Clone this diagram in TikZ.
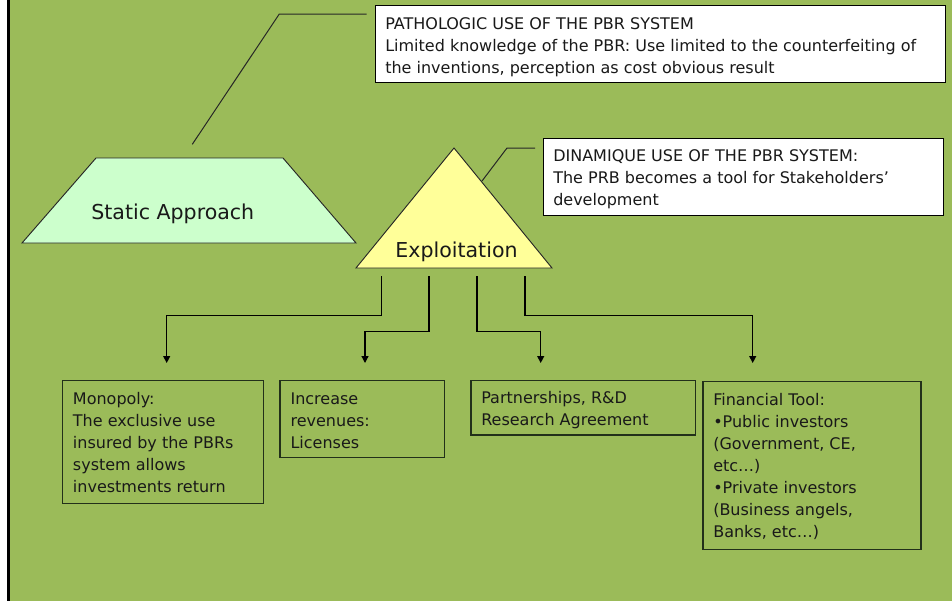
\documentclass[tikz,border=0pt]{standalone}
\usepackage{fontspec}
\setmainfont{DejaVu Sans}
\usetikzlibrary{arrows.meta}
\definecolor{bg}{HTML}{9BBB59}
\definecolor{mint}{HTML}{CCFFCC}
\definecolor{lemon}{HTML}{FFFF99}
\definecolor{edge}{HTML}{22301A}
\begin{document}
\begin{tikzpicture}[x=0.75pt,y=-0.75pt,
  conn/.style={line width=0.9pt, draw=black},
  arr/.style={conn, -{Triangle[width=5.2pt,length=5.2pt]}},
  lead/.style={line width=0.75pt, draw=black!85},
  callout/.style={draw=black, line width=0.75pt, fill=white},
  leaf/.style={draw=edge, line width=0.95pt},
  shapeedge/.style={draw=black!85, line width=0.7pt},
  txt/.style={inner sep=0pt, anchor=north west, align=left, text=black!90, font=\fontsize{12}{16.5}\selectfont},
  big/.style={inner sep=0pt, anchor=base, text=black!90, font=\fontsize{15.4}{18}\selectfont}]
\useasboundingbox (0,0) rectangle (952,601);
\fill[white] (0,0) rectangle (952,601);
\fill[bg] (10,0) rectangle (952,601);
\fill[black] (7.3,0) rectangle (10,601);

% static approach trapezoid
\draw[shapeedge, fill=mint] (96,158) -- (283,158) -- (356,243) -- (22,243) -- cycle;
\node[big] (static) at (172.8,219) {Static Approach};

% exploitation triangle
\draw[shapeedge, fill=lemon] (454,148) -- (552,268) -- (356,268) -- cycle;
\node[big] (exploit) at (456.5,257) {Exploitation};

% callouts
\draw[callout] (375,5.7) rectangle (945,82.7);
\node[txt] (patho) at (385,13.4) {\rule{0pt}{11.5pt}PATHOLOGIC USE OF THE PBR SYSTEM\\Limited knowledge of the PBR: Use limited to the counterfeiting of\\the inventions, perception as cost obvious result};
\draw[callout] (543,138) rectangle (943,215);
\node[txt] (dyn) at (553,145.7) {\rule{0pt}{11.5pt}DINAMIQUE USE OF THE PBR SYSTEM:\\The PRB becomes a tool for Stakeholders’\\development};

% leader lines
\coordinate (pl) at (366.7,14);
\coordinate (pe) at (192.3,144.3);
\draw[lead] (pl) -- (279.3,14) -- (pe);
\coordinate (dl) at (535,148);
\coordinate (de) at (482,181);
\draw[lead] (dl) -- (507,148) -- (de);

% leaf boxes
\draw[leaf] (62.7,380.7) rectangle (263.3,503.3);
\node[txt] (mono) at (72.7,388.4) {\rule{0pt}{11.5pt}Monopoly:\\The exclusive use\\insured by the PBRs\\system allows\\investments return};
\draw[leaf] (280,380.7) rectangle (444.3,457.7);
\node[txt] (incr) at (290.3,388.4) {\rule{0pt}{11.5pt}Increase\\revenues:\\Licenses};
\draw[leaf] (471,380.3) rectangle (695.3,435);
\node[txt] (part) at (481,388) {\rule{0pt}{11.5pt}Partnerships, R\&D\\Research Agreement};
\draw[leaf] (703,381.7) rectangle (921,549.3);
\node[txt] (fin) at (713,389.4) {\rule{0pt}{11.5pt}Financial Tool:\\•Public investors\\(Government, CE,\\etc…)\\•Private investors\\(Business angels,\\Banks, etc…)};

% connectors
\coordinate (s1) at (381.7,276);
\coordinate (s2) at (429,276);
\coordinate (s3) at (477,276);
\coordinate (s4) at (525,276);
\coordinate (a1) at (166.7,363);
\coordinate (a2) at (365,363);
\coordinate (a3) at (540.7,363);
\coordinate (a4) at (752.7,363);
\draw[arr] (s1) -- (381.7,315.7) -- (166.7,315.7) -- (a1);
\draw[arr] (s2) -- (429,331.7) -- (365,331.7) -- (a2);
\draw[arr] (s3) -- (477,331.7) -- (540.7,331.7) -- (a3);
\draw[arr] (s4) -- (525,315.7) -- (752.7,315.7) -- (a4);
\end{tikzpicture}
\end{document}
